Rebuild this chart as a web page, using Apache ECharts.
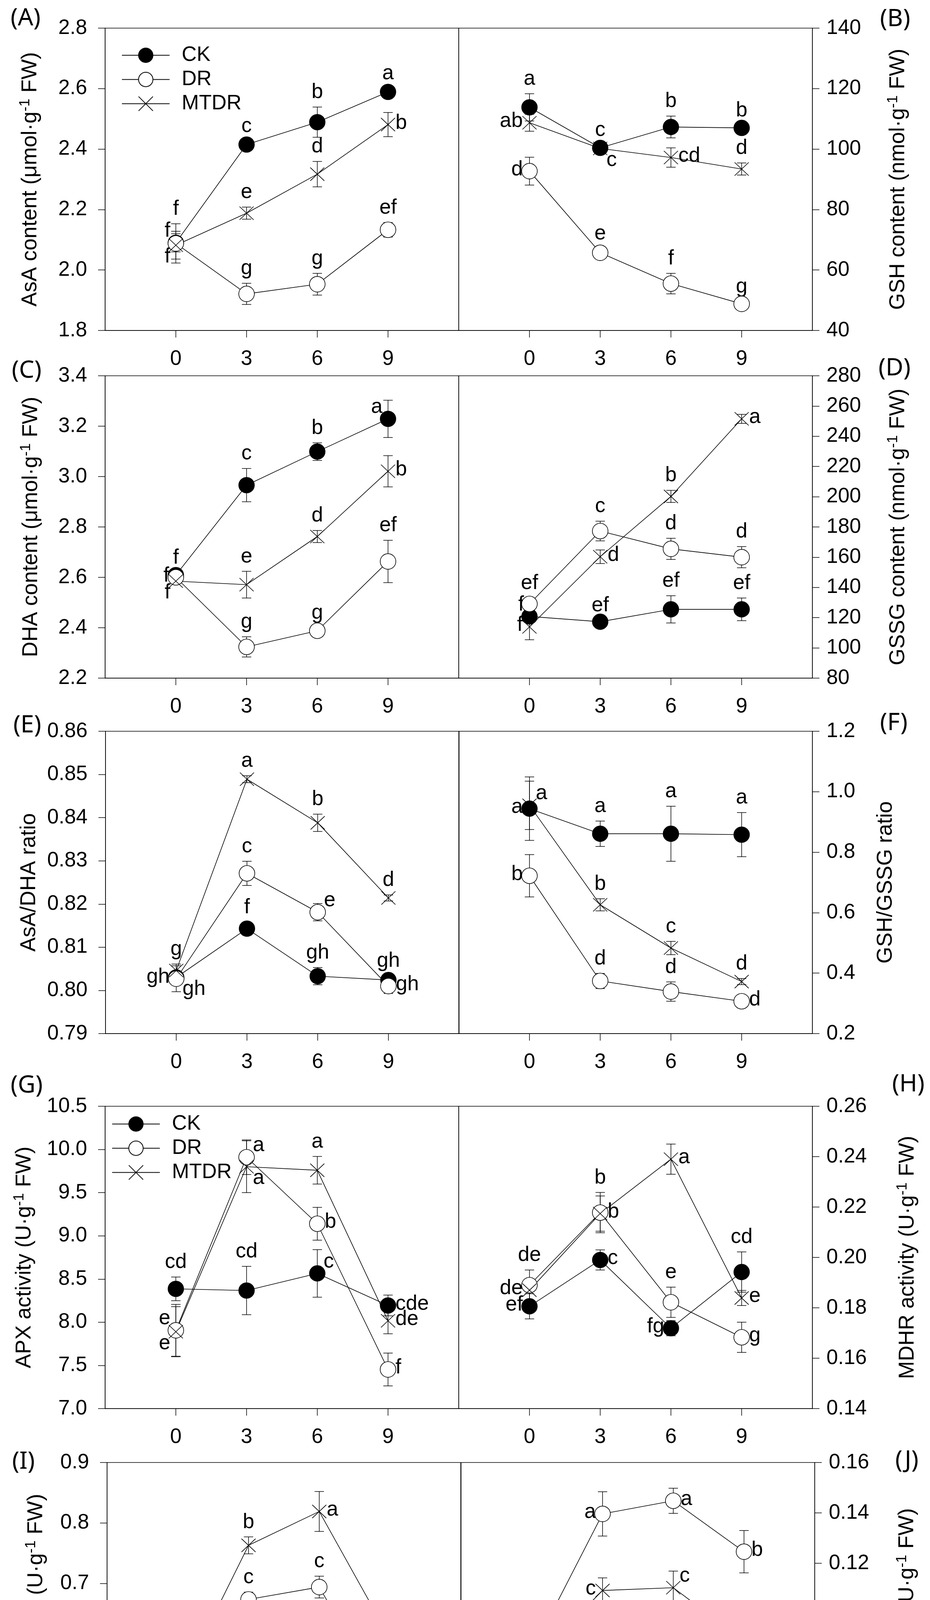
<!DOCTYPE html>
<html>
<head>
<meta charset="utf-8">
<title>AsA-GSH cycle under drought stress</title>
<script src="https://cdn.jsdelivr.net/npm/echarts@6/dist/echarts.min.js"></script>
<style>
html, body { margin: 0; padding: 0; background: #fff; }
#chart { width: 2380px; height: 4739px; }
</style>
</head>
<body>
<div id="chart"></div>
<script>
// drought stress days (x axis)
const days = [0, 3, 6, 9];
const seriesNames = ['CK', 'DR', 'MTDR'];

// (A) AsA content
const asaTicks = [1.8, 2.0, 2.2, 2.4, 2.6, 2.8];
const asaCK = [2.090, 2.415, 2.489, 2.589];
const asaDR = [2.088, 1.921, 1.953, 2.133];
const asaMTDR = [2.082, 2.188, 2.317, 2.481];
const asaCKErr = [0.030, 0.012, 0.050, 0.012];
const asaDRErr = [0.065, 0.035, 0.036, 0.024];
const asaMTDRErr = [0.046, 0.020, 0.042, 0.040];
const asaCKSig = ['f', 'c', 'b', 'a'];
const asaDRSig = ['f', 'g', 'g', 'ef'];
const asaMTDRSig = ['f', 'e', 'd', 'b'];

// (B) GSH content
const gshTicks = [40, 60, 80, 100, 120, 140];
const gshCK = [113.8, 100.4, 107.3, 107.0];
const gshDR = [92.7, 65.7, 55.5, 48.8];
const gshMTDR = [108.7, 100.2, 97.2, 93.4];
const gshCKErr = [4.5, 1.0, 3.6, 0.8];
const gshDRErr = [4.6, 1.5, 3.4, 0.8];
const gshMTDRErr = [2.8, 1.0, 3.2, 2.0];
const gshCKSig = ['a', 'c', 'b', 'b'];
const gshDRSig = ['d', 'e', 'f', 'g'];
const gshMTDRSig = ['ab', 'c', 'cd', 'd'];

// (C) DHA content
const dhaTicks = [2.2, 2.4, 2.6, 2.8, 3.0, 3.2, 3.4];
const dhaCK = [2.609, 2.966, 3.099, 3.229];
const dhaDR = [2.600, 2.324, 2.388, 2.663];
const dhaMTDR = [2.585, 2.571, 2.762, 3.021];
const dhaCKErr = [0.010, 0.066, 0.035, 0.074];
const dhaDRErr = [0.010, 0.040, 0.012, 0.084];
const dhaMTDRErr = [0.010, 0.053, 0.024, 0.062];
const dhaCKSig = ['f', 'c', 'b', 'a'];
const dhaDRSig = ['f', 'g', 'g', 'ef'];
const dhaMTDRSig = ['f', 'e', 'd', 'b'];

// (D) GSSG content
const gssgTicks = [80, 100, 120, 140, 160, 180, 200, 220, 240, 260, 280];
const gssgCK = [120.8, 117.3, 125.5, 125.5];
const gssgDR = [129.1, 177.3, 165.5, 160.0];
const gssgMTDR = [113.9, 160.3, 200.2, 251.5];
const gssgCKErr = [2.0, 1.0, 9.0, 7.5];
const gssgDRErr = [4.0, 6.5, 7.0, 7.0];
const gssgMTDRErr = [8.5, 4.5, 4.0, 3.0];
const gssgCKSig = ['f', 'ef', 'ef', 'ef'];
const gssgDRSig = ['ef', 'c', 'd', 'd'];
const gssgMTDRSig = ['f', 'd', 'b', 'a'];

// (E) AsA/DHA ratio
const adTicks = [0.79, 0.80, 0.81, 0.82, 0.83, 0.84, 0.85, 0.86];
const adCK = [0.8030, 0.8143, 0.8033, 0.8024];
const adDR = [0.8027, 0.8271, 0.8181, 0.8010];
const adMTDR = [0.8046, 0.8489, 0.8388, 0.8214];
const adCKErr = [0.0010, 0.0015, 0.0020, 0.0010];
const adDRErr = [0.0030, 0.0028, 0.0020, 0.0017];
const adMTDRErr = [0.0015, 0.0008, 0.0020, 0.0007];
const adCKSig = ['gh', 'f', 'gh', 'gh'];
const adDRSig = ['gh', 'c', 'e', 'gh'];
const adMTDRSig = ['g', 'a', 'b', 'd'];

// (F) GSH/GSSG ratio
const ggTicks = [0.2, 0.4, 0.6, 0.8, 1.0, 1.2];
const ggCK = [0.944, 0.861, 0.861, 0.858];
const ggDR = [0.722, 0.374, 0.339, 0.307];
const ggMTDR = [0.955, 0.626, 0.483, 0.372];
const ggCKErr = [0.105, 0.042, 0.091, 0.073];
const ggDRErr = [0.070, 0.025, 0.032, 0.010];
const ggMTDRErr = [0.080, 0.020, 0.022, 0.010];
const ggCKSig = ['a', 'a', 'a', 'a'];
const ggDRSig = ['b', 'd', 'd', 'd'];
const ggMTDRSig = ['a', 'b', 'c', 'd'];

// (G) APX activity
const apxTicks = [7.0, 7.5, 8.0, 8.5, 9.0, 9.5, 10.0, 10.5];
const apxCK = [8.386, 8.367, 8.565, 8.194];
const apxDR = [7.906, 9.910, 9.140, 7.453];
const apxMTDR = [7.890, 9.800, 9.759, 8.016];
const apxCKErr = [0.137, 0.280, 0.275, 0.120];
const apxDRErr = [0.300, 0.200, 0.190, 0.190];
const apxMTDRErr = [0.290, 0.300, 0.160, 0.150];
const apxCKSig = ['cd', 'cd', 'c', 'cde'];
const apxDRSig = ['e', 'a', 'b', 'f'];
const apxMTDRSig = ['e', 'a', 'a', 'de'];

// (H) MDHR activity
const mdhrTicks = [0.14, 0.16, 0.18, 0.20, 0.22, 0.24, 0.26];
const mdhrCK = [0.1806, 0.1990, 0.1719, 0.1942];
const mdhrDR = [0.1890, 0.2178, 0.1822, 0.1683];
const mdhrMTDR = [0.1870, 0.2174, 0.2390, 0.1839];
const mdhrCKErr = [0.005, 0.004, 0.003, 0.008];
const mdhrDRErr = [0.006, 0.008, 0.006, 0.006];
const mdhrMTDRErr = [0.004, 0.007, 0.006, 0.003];
const mdhrCKSig = ['ef', 'c', 'fg', 'cd'];
const mdhrDRSig = ['de', 'b', 'e', 'g'];
const mdhrMTDRSig = ['de', 'b', 'a', 'e'];

// (I) DHAR activity
const dharTicks = [0.4, 0.5, 0.6, 0.7, 0.8, 0.9];
const dharCK = [0.4833, 0.554, 0.609, 0.598];
const dharDR = [0.503, 0.6736, 0.694, 0.4906];
const dharMTDR = [0.527, 0.763, 0.819, 0.609];
const dharCKErr = [0.028, 0.018, 0.006, 0.025];
const dharDRErr = [0.012, 0.012, 0.018, 0.029];
const dharMTDRErr = [0.020, 0.014, 0.033, 0.022];
const dharCKSig = ['g', 'e', 'd', 'd'];
const dharDRSig = ['fg', 'c', 'c', 'fg'];
const dharMTDRSig = ['ef', 'b', 'a', 'd'];

// (J) GR activity
const grTicks = [0.04, 0.06, 0.08, 0.10, 0.12, 0.14, 0.16];
const grCK = [0.0725, 0.0814, 0.0794, 0.0605];
const grDR = [0.0849, 0.1396, 0.1448, 0.1246];
const grMTDR = [0.0808, 0.1092, 0.1103, 0.0893];
const grCKErr = [0.0020, 0.0066, 0.0077, 0.0098];
const grDRErr = [0.0055, 0.0088, 0.0050, 0.0084];
const grMTDRErr = [0.0030, 0.0050, 0.0066, 0.0064];
const grCKSig = ['e', 'de', 'de', 'f'];
const grDRSig = ['de', 'a', 'a', 'b'];
const grMTDRSig = ['de', 'c', 'c', 'd'];

// where each significance letter sits next to its point (CK, DR, MTDR rows)
const asaPos = [['tl', 't', 't', 't'], ['t', 't', 't', 't'], ['bl', 't', 't', 'r']];
const gshPos = [['t', 't', 't', 't'], ['l', 't', 't', 't'], ['l', 'br', 'r', 't']];
const dhaPos = [['t', 't', 't', 'tl'], ['l', 't', 't', 't'], ['bl', 't', 't', 'r']];
const gssgPos = [['tl', 't', 't', 't'], ['t', 't', 't', 't'], ['l', 'r', 't', 'r']];
const adPos = [['br', 't', 't', 't'], ['l', 't', 'tr', 'r'], ['t', 't', 't', 't']];
const ggPos = [['l', 't', 't', 't'], ['l', 't', 't', 'r'], ['tr', 't', 't', 't']];
const apxPos = [['t', 't', 'tr', 'r'], ['tl', 'tr', 'r', 'r'], ['bl', 'br', 't', 'r']];
const mdhrPos = [['l', 'r', 'l', 't'], ['t', 't', 't', 'r'], ['l', 'r', 'r', 'r']];
const dharPos = [['bl', 'r', 't', 'r'], ['l', 't', 't', 'r'], ['t', 't', 'r', 't']];
const grPos = [['l', 't', 'tr', 'r'], ['t', 'l', 'r', 'r'], ['l', 'l', 'tr', 'r']];

const FONT = '"Liberation Sans", Arial, sans-serif';
const rowTops = [72, 962, 1872, 2832, 3744];
const leftX = [269, 269, 270, 269, 274];
const rightX = [1174, 1174, 1174, 1174, 1180];
const PW = 905, PH = 774;
const LW = 1.6;

const panels = [
  { tag: '(A)', tagLT: [27, 16], ticks: asaTicks, dec: 1, gap: 160,
    name: 'AsA content (μmol·g{sup|-1} FW)', vals: [asaCK, asaDR, asaMTDR],
    errs: [asaCKErr, asaDRErr, asaMTDRErr], sigs: [asaCKSig, asaDRSig, asaMTDRSig], pos: asaPos },
  { tag: '(B)', tagLT: [2252, 18], ticks: gshTicks, dec: 0, gap: 188,
    name: 'GSH content (nmol·g{sup|-1} FW)', vals: [gshCK, gshDR, gshMTDR],
    errs: [gshCKErr, gshDRErr, gshMTDRErr], sigs: [gshCKSig, gshDRSig, gshMTDRSig], pos: gshPos },
  { tag: '(C)', tagLT: [30, 918], ticks: dhaTicks, dec: 1, gap: 158,
    name: 'DHA content (μmol·g{sup|-1} FW)', vals: [dhaCK, dhaDR, dhaMTDR],
    errs: [dhaCKErr, dhaDRErr, dhaMTDRErr], sigs: [dhaCKSig, dhaDRSig, dhaMTDRSig], pos: dhaPos },
  { tag: '(D)', tagLT: [2248, 912], ticks: gssgTicks, dec: 0, gap: 188,
    name: 'GSSG content (nmol·g{sup|-1} FW)', vals: [gssgCK, gssgDR, gssgMTDR],
    errs: [gssgCKErr, gssgDRErr, gssgMTDRErr], sigs: [gssgCKSig, gssgDRSig, gssgMTDRSig], pos: gssgPos },
  { tag: '(E)', tagLT: [34, 1826], ticks: adTicks, dec: 2, gap: 168,
    name: 'AsA/DHA ratio', vals: [adCK, adDR, adMTDR],
    errs: [adCKErr, adDRErr, adMTDRErr], sigs: [adCKSig, adDRSig, adMTDRSig], pos: adPos },
  { tag: '(F)', tagLT: [2252, 1820], ticks: ggTicks, dec: 1, gap: 160,
    name: 'GSH/GSSG ratio', vals: [ggCK, ggDR, ggMTDR],
    errs: [ggCKErr, ggDRErr, ggMTDRErr], sigs: [ggCKSig, ggDRSig, ggMTDRSig], pos: ggPos },
  { tag: '(G)', tagLT: [27, 2748], ticks: apxTicks, dec: 1, gap: 175,
    name: 'APX activity (U·g{sup|-1} FW)', vals: [apxCK, apxDR, apxMTDR],
    errs: [apxCKErr, apxDRErr, apxMTDRErr], sigs: [apxCKSig, apxDRSig, apxMTDRSig], pos: apxPos },
  { tag: '(H)', tagLT: [2283, 2745], ticks: mdhrTicks, dec: 2, gap: 212,
    name: 'MDHR activity (U·g{sup|-1} FW)', vals: [mdhrCK, mdhrDR, mdhrMTDR],
    errs: [mdhrCKErr, mdhrDRErr, mdhrMTDRErr], sigs: [mdhrCKSig, mdhrDRSig, mdhrMTDRSig], pos: mdhrPos },
  { tag: '(I)', tagLT: [31, 3711], ticks: dharTicks, dec: 1, gap: 150,
    name: 'DHAR activity (U·g{sup|-1} FW)', vals: [dharCK, dharDR, dharMTDR],
    errs: [dharCKErr, dharDRErr, dharMTDRErr], sigs: [dharCKSig, dharDRSig, dharMTDRSig], pos: dharPos },
  { tag: '(J)', tagLT: [2291, 3708], ticks: grTicks, dec: 2, gap: 205,
    name: 'GR activity (U·g{sup|-1} FW)', vals: [grCK, grDR, grMTDR],
    errs: [grCKErr, grDRErr, grMTDRErr], sigs: [grCKSig, grDRSig, grMTDRSig], pos: grPos }
];

const markers = [
  { symbol: 'circle', size: 40, itemStyle: { color: '#000', borderColor: '#000', borderWidth: LW } },
  { symbol: 'circle', size: 40, itemStyle: { color: '#fff', borderColor: '#000', borderWidth: LW } },
  { symbol: 'path://M0,0L10,10M0,10L10,0', size: [36, 34],
    itemStyle: { color: 'rgba(0,0,0,0)', borderColor: '#000', borderWidth: LW } }
];

// letter next to a point; 't' letters sit just above the error bar
function placeLetter(text, pos, c, yHi, yLo) {
  let x = c[0], y = c[1] - 4, align = 'center', va = 'middle';
  if (pos === 't') { y = Math.min(yHi, c[1]) - 11; va = 'bottom'; }
  else if (pos === 'b') { y = Math.max(yLo, c[1]) + 22; va = 'top'; }
  else if (pos === 'l') { x = c[0] - 17; align = 'right'; }
  else if (pos === 'r') { x = c[0] + 19; align = 'left'; }
  else if (pos === 'tl') { x = c[0] - 14; y = c[1] - 30; align = 'right'; }
  else if (pos === 'bl') { x = c[0] - 14; y = c[1] + 30; align = 'right'; }
  else if (pos === 'tr') { x = c[0] + 16; y = c[1] - 30; align = 'left'; }
  else if (pos === 'br') { x = c[0] + 16; y = c[1] + 30; align = 'left'; }
  return { type: 'text', style: { text: text, x: x, y: y, align: align, verticalAlign: va,
    fontSize: 53, fontFamily: FONT, fill: '#000' } };
}

function errSeries(gi, name, vals, errs, sigs, poss) {
  return {
    type: 'custom', name: name + ' err', xAxisIndex: gi, yAxisIndex: gi, z: 2, silent: true,
    data: days.map((d, i) => [d, vals[i], errs[i], i]),
    renderItem: function (params, api) {
      const x = api.value(0), v = api.value(1), e = api.value(2), i = api.value(3);
      const c = api.coord([x, v]);
      const hi = api.coord([x, v + e]);
      const lo = api.coord([x, v - e]);
      const st = { stroke: '#000', lineWidth: 1.5 };
      const cap = 12;
      const kids = [
        { type: 'line', shape: { x1: c[0], y1: hi[1], x2: c[0], y2: lo[1] }, style: st },
        { type: 'line', shape: { x1: c[0] - cap, y1: hi[1], x2: c[0] + cap, y2: hi[1] }, style: st },
        { type: 'line', shape: { x1: c[0] - cap, y1: lo[1], x2: c[0] + cap, y2: lo[1] }, style: st },
        placeLetter(sigs[i], poss[i], c, hi[1], lo[1])
      ];
      return { type: 'group', children: kids };
    }
  };
}

const grids = [], xAxes = [], yAxes = [], series = [], graphics = [];
panels.forEach((p, gi) => {
  const row = Math.floor(gi / 2);
  const right = gi % 2 === 1;
  grids.push({ left: right ? rightX[row] : leftX[row], top: rowTops[row], width: PW, height: PH,
    show: true, borderColor: '#000', borderWidth: 1.5, containLabel: false, outerBoundsMode: 'none' });

  const x = {
    type: 'value', gridIndex: gi, min: -3, max: 12, interval: 3,
    axisLine: { show: true, onZero: false, lineStyle: { color: '#000', width: 1.5 } },
    axisTick: { show: true, length: 18, customValues: days, lineStyle: { color: '#000', width: 1.5 } },
    axisLabel: { customValues: days, margin: 47, fontSize: 53, fontFamily: FONT, color: '#000' },
    splitLine: { show: false }
  };
  if (row === 4) {
    x.name = 'Drought stress time (d)';
    x.nameLocation = 'middle';
    x.nameGap = 144;
    x.nameTextStyle = { fontSize: 55, fontFamily: FONT, color: '#000' };
  }
  xAxes.push(x);

  const t = p.ticks;
  yAxes.push({
    type: 'value', gridIndex: gi, position: right ? 'right' : 'left',
    min: t[0], max: t[t.length - 1], interval: +(t[1] - t[0]).toFixed(4),
    axisLine: { show: true, onZero: false, lineStyle: { color: '#000', width: 1.5 } },
    axisTick: { show: true, length: 18, lineStyle: { color: '#000', width: 1.5 } },
    axisLabel: { margin: right ? 36 : 46, fontSize: 53, fontFamily: FONT, color: '#000',
      formatter: v => v.toFixed(p.dec) },
    splitLine: { show: false },
    name: p.name, nameLocation: 'middle', nameGap: p.gap, nameRotate: 90,
    nameTextStyle: { fontSize: 55, fontFamily: FONT, color: '#000',
      rich: { sup: { fontSize: 37, fontFamily: FONT, color: '#000', verticalAlign: 'top', padding: [0, 0, 26, 0] } } }
  });

  seriesNames.forEach((nm, k) => {
    series.push({
      type: 'line', name: nm, xAxisIndex: gi, yAxisIndex: gi, z: 3,
      data: days.map((d, i) => [d, p.vals[k][i]]),
      symbol: markers[k].symbol, symbolSize: markers[k].size, itemStyle: markers[k].itemStyle,
      lineStyle: { color: '#000', width: LW }, showSymbol: true, silent: true,
      emphasis: { disabled: true }
    });
    series.push(errSeries(gi, nm, p.vals[k], p.errs[k], p.sigs[k], p.pos[k]));
  });

  graphics.push({ type: 'text', left: p.tagLT[0], top: p.tagLT[1], silent: true,
    style: { text: p.tag, fontSize: 62, fontFamily: '"Noto Sans", sans-serif', fill: '#000' } });
});

const legendBase = {
  data: seriesNames, orient: 'vertical', itemWidth: 122, itemHeight: 46, itemGap: 9,
  selectedMode: false,
  textStyle: { fontSize: 53, fontFamily: FONT, color: '#000', padding: [0, 0, 0, 26] }
};

const chart = echarts.init(document.getElementById('chart'));
chart.setOption({
  animation: false,
  backgroundColor: '#fff',
  grid: grids,
  xAxis: xAxes,
  yAxis: yAxes,
  legend: [
    Object.assign({}, legendBase, { left: 306, top: 110 }),
    Object.assign({}, legendBase, { left: 281, top: 2846 })
  ],
  series: series,
  graphic: graphics
});
</script>
</body>
</html>
